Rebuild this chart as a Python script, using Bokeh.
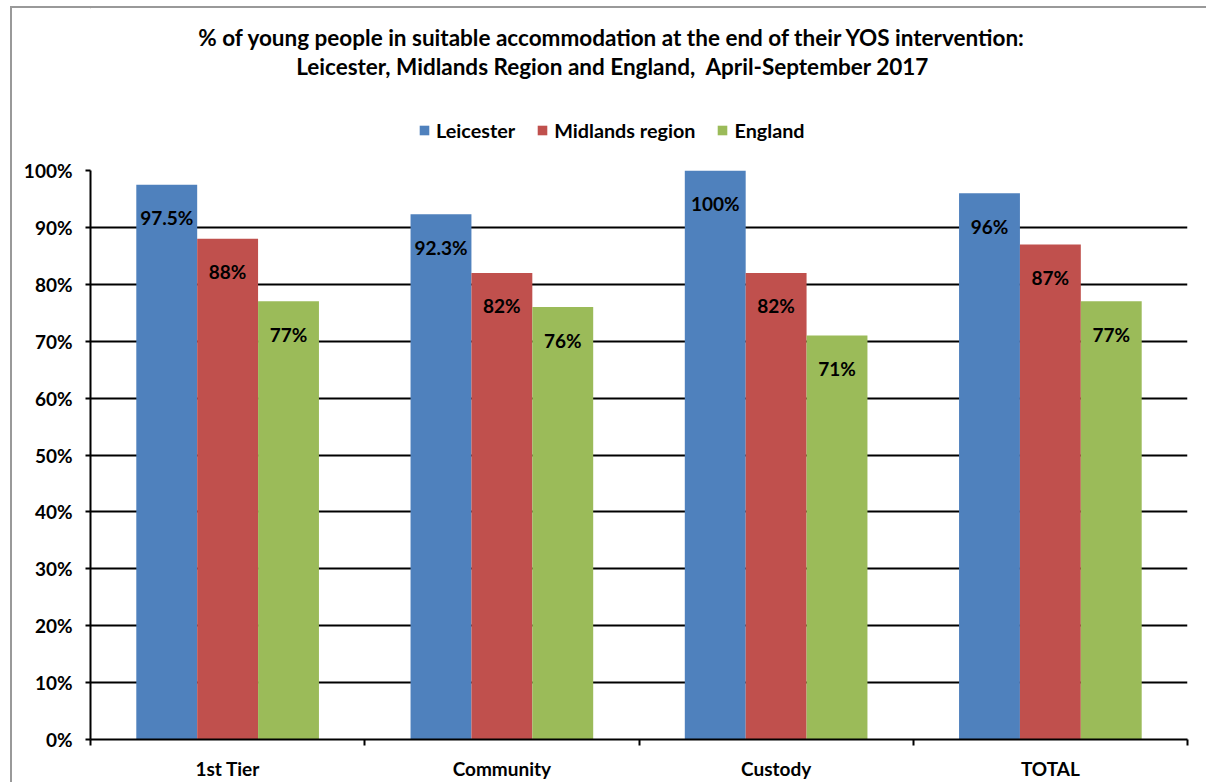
from bokeh.plotting import figure
from bokeh.layouts import column
from bokeh.models import Range1d, FixedTicker, Legend, LegendItem, ColumnDataSource
from bokeh.core.properties import value
from bokeh.embed import file_html
from bokeh.resources import INLINE
import numpy as np

# ---- data ----
categories = ["1st Tier", "Community", "Custody", "TOTAL"]
series_names = ["Leicester", "Midlands region", "England"]
leicester = [97.5, 92.3, 100, 96]
midlands = [88, 82, 82, 87]
england = [77, 76, 71, 77]
leicester_labels = ["97.5%", "92.3%", "100%", "96%"]
midlands_labels = ["88%", "82%", "82%", "87%"]
england_labels = ["77%", "76%", "71%", "77%"]
y_ticks = [0, 10, 20, 30, 40, 50, 60, 70, 80, 90, 100]
y_tick_labels = ["0%", "10%", "20%", "30%", "40%", "50%", "60%", "70%", "80%", "90%", "100%"]
title_lines = ["% of young people in suitable accommodation at the end of their YOS intervention:",
               "Leicester, Midlands Region and England,\u00a0\u00a0April-September 2017"]

colors = ["#4F81BD", "#C0504D", "#9BBB59"]
FONT = "Lato"
FS = "19px"

W = 1194
HEAD_H = 142
MAIN_H = 632
ML, MR, MT, MB = 78, 19, 20, 42
PAGE_X0 = 12            # page x of the figures' left edge
FRAME_L = PAGE_X0 + ML  # page x of the frame's left edge
FRAME_R = PAGE_X0 + W - MR

# ---- header (title + legend), x in page pixels, y in pixels from header top ----
head = figure(width=W, height=HEAD_H, output_backend="svg", toolbar_location=None,
              x_range=Range1d(FRAME_L, FRAME_R), y_range=Range1d(HEAD_H, 0),
              x_axis_type=None, y_axis_type=None,
              min_border_left=ML, min_border_right=MR,
              min_border_top=0, min_border_bottom=0)
head.outline_line_color = None
head.grid.visible = False
head.background_fill_color = "white"
head.border_fill_color = "white"

title_src = ColumnDataSource(dict(x=[612, 612], y=[29, 58], t=title_lines))
head.text(x="x", y="y", text="t", source=title_src, text_align="center",
          text_baseline="middle", text_font=value(FONT), text_font_style="bold",
          text_font_size="22.5px", text_color="black")

dummy = []
for col in colors:
    dummy.append(head.vbar(x=[-1000], top=[-1000], bottom=[-1001], width=1,
                           fill_color=col, line_color=None))

legend = Legend(items=[LegendItem(label=n, renderers=[r]) for n, r in zip(series_names, dummy)],
                orientation="horizontal", location=(418 - FRAME_L, 8),
                glyph_width=12, glyph_height=12, label_standoff=6, spacing=21,
                padding=0, margin=0, border_line_color=None, background_fill_alpha=0,
                label_text_font=FONT, label_text_font_style="bold", label_text_font_size="19.8px",
                label_text_color="black", label_text_baseline="middle")
head.add_layout(legend, "center")

# ---- main chart ----
p = figure(width=W, height=MAIN_H, output_backend="svg", toolbar_location=None,
           x_range=Range1d(0, len(categories)), y_range=Range1d(0, 100),
           min_border_left=ML, min_border_right=MR, min_border_top=MT, min_border_bottom=MB)
p.outline_line_color = None
p.background_fill_color = "white"
p.border_fill_color = "white"

centers = np.arange(len(categories)) + 0.5
bw = 0.222
offsets = [-bw, 0.0, bw]
all_vals = [leicester, midlands, england]
all_labels = [leicester_labels, midlands_labels, england_labels]
label_drop = 33.0 * 100.0 / 569.0  # ~33 px below the bar top, in data units

for vals, labs, off, col in zip(all_vals, all_labels, offsets, colors):
    src = ColumnDataSource(dict(x=centers + off, top=vals,
                                ly=np.array(vals) - label_drop, lab=labs))
    p.vbar(x="x", top="top", width=bw, bottom=0, source=src,
           fill_color=col, line_color=None)
    p.text(x="x", y="ly", text="lab", source=src, text_align="center",
           text_baseline="middle", text_font=value(FONT), text_font_style="bold",
           text_font_size=FS, text_color="black")

yax = p.yaxis[0]
yax.ticker = FixedTicker(ticks=y_ticks)
yax.major_label_overrides = {t: l for t, l in zip(y_ticks, y_tick_labels)}
yax.major_tick_in = 0
yax.major_tick_out = 5
yax.minor_tick_line_color = None
yax.axis_line_width = 2
yax.major_tick_line_width = 2
yax.axis_line_color = "black"
yax.major_tick_line_color = "black"
yax.major_label_text_font = FONT
yax.major_label_text_font_style = "bold"
yax.major_label_text_font_size = FS
yax.major_label_text_color = "black"
yax.major_label_standoff = 13

xax = p.xaxis[0]
xax.ticker = FixedTicker(ticks=list(centers), minor_ticks=list(range(len(categories) + 1)))
xax.major_label_overrides = {float(c): n for c, n in zip(centers, categories)}
xax.major_tick_in = 0
xax.major_tick_out = 0
xax.minor_tick_in = 0
xax.minor_tick_out = 6
xax.minor_tick_line_color = "black"
xax.minor_tick_line_width = 2
xax.axis_line_width = 2
xax.axis_line_color = "black"
xax.major_label_text_font = FONT
xax.major_label_text_font_style = "bold"
xax.major_label_text_font_size = FS
xax.major_label_text_color = "black"
xax.major_label_standoff = 11

p.xgrid.visible = False
p.ygrid.ticker = FixedTicker(ticks=y_ticks)
p.ygrid.grid_line_color = "black"
p.ygrid.grid_line_width = 2

layout = column(head, p, spacing=0, margin=(6, 0, 0, 10),
                styles={"border-left": "2px solid #999999", "border-top": "2px solid #999999",
                        "box-sizing": "content-box", "overflow": "visible"})

open("out.html", "w").write(file_html(layout, INLINE))
